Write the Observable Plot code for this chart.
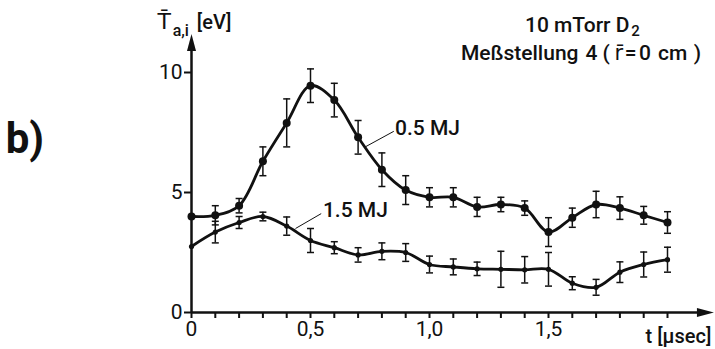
<!DOCTYPE html>
<html>
<head>
<meta charset="utf-8">
<script src="https://cdn.jsdelivr.net/npm/d3@7"></script>
<script src="https://cdn.jsdelivr.net/npm/@observablehq/plot@0.6"></script>
<style>
  html, body { margin: 0; padding: 0; background: #fff; }
  svg { display: block; }
</style>
</head>
<body>
<div id="chart"></div>
<script>
// time [µsec]
const t = [0.0, 0.1, 0.2, 0.3, 0.4, 0.5, 0.6, 0.7, 0.8, 0.9, 1.0, 1.1, 1.2, 1.3, 1.4, 1.5, 1.6, 1.7, 1.8, 1.9, 2.0];
// 0.5 MJ series: T_a,i [eV] and error half-widths
const T05   = [4.0, 4.05, 4.45, 6.3, 7.9, 9.45, 8.85, 7.3, 5.95, 5.1, 4.8, 4.8, 4.4, 4.5, 4.35, 3.35, 3.95, 4.5, 4.35, 4.05, 3.75];
const err05 = [0, 0.4, 0.3, 0.6, 1.0, 0.7, 0.7, 0.7, 0.7, 0.6, 0.4, 0.4, 0.4, 0.3, 0.3, 0.6, 0.4, 0.55, 0.47, 0.37, 0.45];
// 1.5 MJ series
const T15   = [2.75, 3.35, 3.75, 4.0, 3.6, 3.0, 2.7, 2.4, 2.55, 2.5, 2.0, 1.9, 1.82, 1.8, 1.78, 1.8, 1.22, 1.05, 1.68, 2.0, 2.2];
const err15 = [0, 0.45, 0.25, 0.18, 0.38, 0.5, 0.25, 0.3, 0.35, 0.37, 0.35, 0.33, 0.28, 0.75, 0.55, 0.7, 0.27, 0.33, 0.43, 0.52, 0.52];

// ticks
const xMinorTicks = [0, 0.1, 0.2, 0.3, 0.4, 0.5, 0.6, 0.7, 0.8, 0.9, 1.0, 1.1, 1.2, 1.3, 1.4, 1.5, 1.6, 1.7, 1.8, 1.9, 2.0];
const xLabelTicks = [0, 0.5, 1.0, 1.5];
const xTickLabels = ["0", "0,5", "1,0", "1,5"];
const yTicks = [0, 5, 10];
const yTickLabels = ["0", "5", "10"];

const seriesNames = ["0.5 MJ", "1.5 MJ"];

const s05 = t.map((x, i) => ({x, y: T05[i], e: err05[i]}));
const s15 = t.map((x, i) => ({x, y: T15[i], e: err15[i]}));
const bars = [...s05, ...s15].filter(d => d.e > 0);

const FONT = "Roboto";

// custom symbols
const arrowHead = {draw(ctx) { ctx.moveTo(0, 0); ctx.lineTo(-17, -4.5); ctx.lineTo(-17, 4.5); ctx.closePath(); }};
const cap = {draw(ctx) { ctx.moveTo(-3.5, 0); ctx.lineTo(3.5, 0); }};

const T2 = {fontSize: 21, fontWeight: 500, textAnchor: "start", text: d => d};

const chart = Plot.plot({
  width: 715,
  height: 349,
  marginLeft: 191,
  marginRight: 48,
  marginTop: 72,
  marginBottom: 37,
  x: {domain: [0, 2], axis: null},
  y: {domain: [0, 10], axis: null},
  style: {fontFamily: FONT, fontSize: "20px", color: "#111", background: "#fff"},
  marks: [
    // axes lines
    Plot.ruleY([0], {x1: 0, x2: 2.16, stroke: "#111", strokeWidth: 2.5}),
    Plot.ruleX([0], {y1: 0, y2: 11.2, stroke: "#111", strokeWidth: 2.5}),
    Plot.dot([{x: 2.195, y: 0}], {x: "x", y: "y", symbol: arrowHead, fill: "#111", stroke: null, r: 5}),
    Plot.dot([{x: 0, y: 11.6}], {x: "x", y: "y", symbol: arrowHead, fill: "#111", stroke: null, r: 5, rotate: -90}),
    Plot.axisX({ticks: xMinorTicks, tickSize: 6, strokeWidth: 2, tickFormat: () => "", label: null}),
    Plot.axisX({ticks: xLabelTicks, tickSize: 0, tickPadding: 9, fontSize: 21, tickFormat: (d, i) => xTickLabels[xLabelTicks.indexOf(d)], label: null}),
    Plot.axisY({ticks: yTicks, tickSize: 7, tickPadding: 2, strokeWidth: 2, fontSize: 21, tickFormat: d => yTickLabels[yTicks.indexOf(d)], label: null}),
    // error bars
    Plot.ruleX(bars, {x: "x", y1: d => d.y - d.e, y2: d => d.y + d.e, stroke: "#111", strokeWidth: 1.5}),
    Plot.dot(bars, {x: "x", y: d => d.y - d.e, symbol: cap, stroke: "#111", strokeWidth: 1.5, fill: null}),
    Plot.dot(bars, {x: "x", y: d => d.y + d.e, symbol: cap, stroke: "#111", strokeWidth: 1.5, fill: null}),
    // curves
    Plot.line(s05, {x: "x", y: "y", curve: "catmull-rom", stroke: "#111", strokeWidth: 2.8}),
    Plot.line(s15, {x: "x", y: "y", curve: "catmull-rom", stroke: "#111", strokeWidth: 2.8}),
    Plot.dot(s05, {x: "x", y: "y", r: 4, fill: "#111", stroke: null}),
    Plot.dot(s15, {x: "x", y: "y", r: 2.6, fill: "#111", stroke: null}),
    // series labels with leader lines
    Plot.link([{x1: 0.73, y1: 6.9, x2: 0.85, y2: 7.55}, {x1: 0.437, y1: 3.5, x2: 0.545, y2: 4.12}],
      {x1: "x1", y1: "y1", x2: "x2", y2: "y2", stroke: "#111", strokeWidth: 1}),
    Plot.text([seriesNames[0]], {x: 0.855, y: 7.67, ...T2}),
    Plot.text([seriesNames[1]], {x: 0.552, y: 4.25, ...T2}),
    // titles
    Plot.text(["10 mTorr D"], {x: 1.84, y: 11.95, ...T2, textAnchor: "end"}),
    Plot.text(["2"], {x: 1.848, y: 11.72, ...T2, fontSize: 15}),
    Plot.text(["Meßstellung"], {x: 1.626, y: 10.8, ...T2, textAnchor: "end"}),
    Plot.text(["4 ("], {x: 1.655, y: 10.8, ...T2}),
    Plot.text(["r\u0304"], {x: 1.795, y: 10.8, text: d => d, textAnchor: "middle", fontSize: 21, fontFamily: "DejaVu Sans"}),
    Plot.text(["="], {x: 1.82, y: 10.8, ...T2}),
    Plot.text(["0"], {x: 1.88, y: 10.8, ...T2}),
    Plot.text(["cm"], {x: 1.96, y: 10.8, ...T2}),
    Plot.text([")"], {x: 2.11, y: 10.8, ...T2}),
    // axis labels
    Plot.text(["T\u0304"], {x: -0.115, y: 12.1, text: d => d, textAnchor: "middle", fontSize: 22, fontFamily: "DejaVu Sans"}),
    Plot.text(["a,i"], {x: -0.045, y: 11.75, text: d => d, textAnchor: "middle", fontSize: 16, fontWeight: 500}),
    Plot.text(["[eV]"], {x: 0.095, y: 12.1, text: d => d, textAnchor: "middle", fontSize: 20, fontWeight: 500}),
    Plot.text(["t [µsec]"], {x: 2.046, y: -1.0, text: d => d, textAnchor: "middle", fontSize: 20, fontWeight: 500}),
    Plot.text(["b)"], {x: -0.7, y: 7.2, text: d => d, textAnchor: "middle", fontSize: 42, fontWeight: 700})
  ]
});
document.getElementById("chart").appendChild(chart);
</script>
</body>
</html>
